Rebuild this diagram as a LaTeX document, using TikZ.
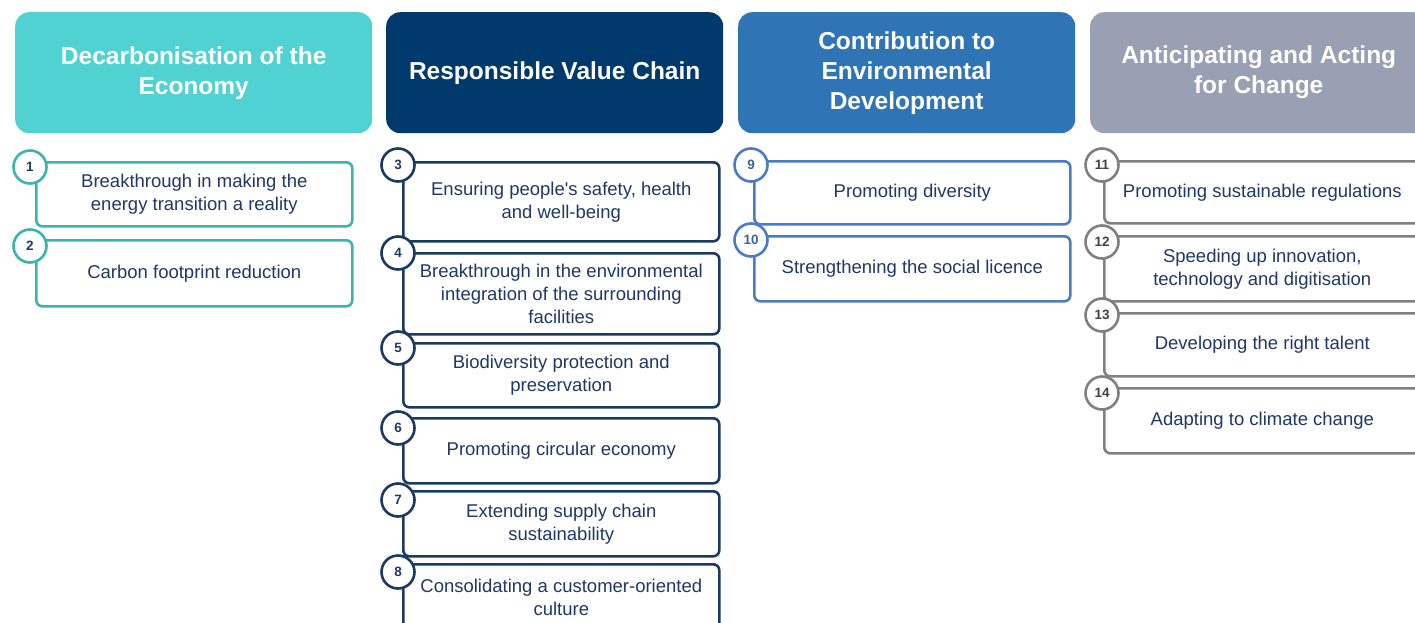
\documentclass[tikz,border=0pt]{standalone}
\usepackage{fontspec}
\setmainfont{Liberation Sans}
\definecolor{tealhead}{HTML}{50D2D2}
\definecolor{tealline}{HTML}{3AB5AE}
\definecolor{navyhead}{HTML}{003A6C}
\definecolor{navyline}{HTML}{1A3A62}
\definecolor{bluehead}{HTML}{2F75B6}
\definecolor{blueline}{HTML}{4A7CC6}
\definecolor{greyhead}{HTML}{9AA0B3}
\definecolor{greyline}{HTML}{808080}
\definecolor{txt}{HTML}{1F3864}
\tikzset{
    head/.style={
           rectangle,
           rounded corners=14pt,
           anchor=north west,
           minimum width=337pt,
           minimum height=121pt,
           text=white,
           font=\fontsize{24.5}{30}\selectfont\bfseries,
           align=center,
           },
    item/.style={
           rectangle,
           rounded corners=6pt,
           anchor=north west,
           line width=2.6pt,
           fill=white,
           minimum width=316pt,
           text=txt,
           font=\fontsize{18.5}{23}\selectfont,
           align=center,
           },
    num/.style={
           circle,
           draw, line width=2.6pt, fill=white,
           minimum size=33pt, inner sep=0pt,
           text=txt,
           font=\fontsize{13.5}{13.5}\selectfont\bfseries,
           },
}

\begin{document}
\begin{tikzpicture}[x=1pt,y=-1pt]
    \clip (0,0) rectangle (1415,623);
    \fill[white] (0,0) rectangle (1415,623);

    % column headers
    \node[head,fill=tealhead,minimum width=357pt] (h1) at (15,12)   {Decarbonisation of the\\Economy};
    \node[head,fill=navyhead] (h2) at (386,12)  {Responsible Value Chain};
    \node[head,fill=bluehead] (h3) at (738,12)  {Contribution to\\Environmental\\Development};
    \node[head,fill=greyhead] (h4) at (1090,12) {Anticipating and Acting\\for Change};

    % decarbonisation
    \node[item,draw=tealline,minimum height=64pt] (b1) at (35,161) {Breakthrough in making the\\energy transition a reality};
    \node[item,draw=tealline,minimum height=66pt] (b2) at (35,239) {Carbon footprint reduction};
    \node[num,draw=tealline] (c1) at (30,167) {1};
    \node[num,draw=tealline] (c2) at (30,246) {2};

    % value chain
    \node[item,draw=navyline,minimum height=79pt] (b3) at (402,161) {Ensuring people\textquotesingle s safety, health\\and well-being};
    \node[item,draw=navyline,minimum height=81pt] (b4) at (402,252) {Breakthrough in the environmental\\integration of the surrounding\\facilities};
    \node[item,draw=navyline,minimum height=64pt] (b5) at (402,342) {Biodiversity protection and\\preservation};
    \node[item,draw=navyline,minimum height=65pt] (b6) at (402,417) {Promoting circular economy};
    \node[item,draw=navyline,minimum height=65pt] (b7) at (402,490) {Extending supply chain\\sustainability};
    \node[item,draw=navyline,minimum height=66pt] (b8) at (402,563) {Consolidating a customer-oriented\\culture};
    \node[num,draw=navyline] (c3) at (398,165) {3};
    \node[num,draw=navyline] (c4) at (398,253) {4};
    \node[num,draw=navyline] (c5) at (398,348) {5};
    \node[num,draw=navyline] (c6) at (398,428) {6};
    \node[num,draw=navyline] (c7) at (398,500) {7};
    \node[num,draw=navyline] (c8) at (398,572) {8};

    % environmental development
    \node[item,draw=blueline,minimum height=63pt] (b9)  at (753,160) {Promoting diversity};
    \node[item,draw=blueline,minimum height=65pt] (b10) at (753,235) {Strengthening the social licence};
    \node[num,draw=blueline,text=blueline!80!black] (c9)  at (751,165) {9};
    \node[num,draw=blueline,text=blueline!80!black] (c10) at (751,240) {10};

    % change
    \node[item,draw=greyline,minimum height=62pt] (b11) at (1103,160) {Promoting sustainable regulations};
    \node[item,draw=greyline,minimum height=65pt] (b12) at (1103,235) {Speeding up innovation,\\technology and digitisation};
    \node[item,draw=greyline,minimum height=63pt] (b13) at (1103,312) {Developing the right talent};
    \node[item,draw=greyline,minimum height=65pt] (b14) at (1103,387) {Adapting to climate change};
    \node[num,draw=greyline,text=black!75] (c11) at (1102,165) {11};
    \node[num,draw=greyline,text=black!75] (c12) at (1102,242) {12};
    \node[num,draw=greyline,text=black!75] (c13) at (1102,315) {13};
    \node[num,draw=greyline,text=black!75] (c14) at (1102,393) {14};
\end{tikzpicture}
\end{document}
